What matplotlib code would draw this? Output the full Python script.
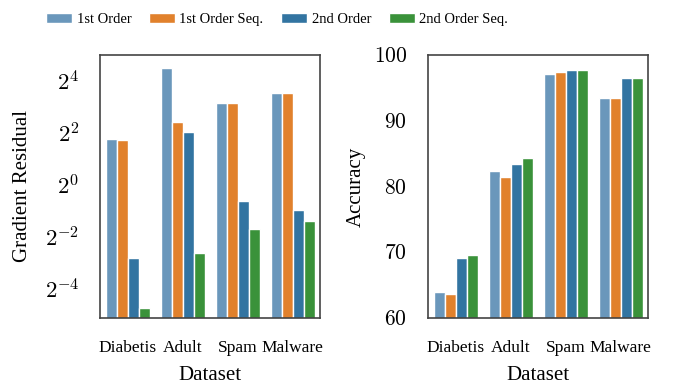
import numpy as np
import matplotlib
matplotlib.use("Agg")
import matplotlib.pyplot as plt
from matplotlib.patches import Patch
from matplotlib.ticker import FixedLocator, FuncFormatter, NullLocator

# --------------------
# Data
# --------------------
DATASETS = ["Diabetis", "Adult", "Spam", "Malware"]
METHODS = ["1st Order", "1st Order Seq.", "2nd Order", "2nd Order Seq."]
COLORS = ["#6a97bb", "#e1812c", "#3274a1", "#3a923a"]

# gradient residual per method, one value per dataset
residual_1st = [3.41, 22.5, 8.98, 11.6]
residual_1st_seq = [3.32, 5.36, 8.98, 11.6]
residual_2nd = [0.143, 4.08, 0.647, 0.51]
residual_2nd_seq = [0.038, 0.163, 0.31, 0.386]

accuracy_1st = [64.0, 82.3, 97.1, 93.5]
accuracy_1st_seq = [63.7, 81.5, 97.4, 93.5]
accuracy_2nd = [69.1, 83.4, 97.7, 96.5]
accuracy_2nd_seq = [69.6, 84.3, 97.7, 96.5]

residuals = [residual_1st, residual_1st_seq, residual_2nd, residual_2nd_seq]
accuracies = [accuracy_1st, accuracy_1st_seq, accuracy_2nd, accuracy_2nd_seq]

plt.rcParams["font.family"] = ["Liberation Serif", "DejaVu Serif"]
plt.rcParams["mathtext.fontset"] = "cm"

BAR_W = 0.2


def draw_bars(ax, series):
    x = np.arange(len(DATASETS))
    for j, vals in enumerate(series):
        ax.bar(x + (j - 1.5) * BAR_W, vals, BAR_W, color=COLORS[j],
               edgecolor="white", linewidth=1.0)
    ax.set_xlim(-0.5, len(DATASETS) - 0.5)
    ax.set_xticks(x)
    ax.set_xticklabels(DATASETS, fontsize=12.5)
    ax.tick_params(axis="both", length=0)
    ax.tick_params(axis="x", pad=16)
    ax.tick_params(axis="y", pad=15, labelsize=15.5)
    ax.set_xlabel("Dataset", fontsize=15, labelpad=7)
    for sp in ax.spines.values():
        sp.set_color("#444444")
        sp.set_linewidth(1.2)


fig = plt.figure(figsize=(6.88, 3.87), dpi=100)
ax1 = fig.add_axes([100 / 688, 1 - 318 / 387, 220 / 688, 263 / 387])
ax2 = fig.add_axes([428 / 688, 1 - 318 / 387, 220 / 688, 263 / 387])

# left: gradient residual on log2 scale
draw_bars(ax1, residuals)
ax1.set_yscale("log", base=2)
ax1.set_ylim(2 ** -5.12, 2 ** 5.0)
ax1.yaxis.set_major_locator(FixedLocator([2.0 ** e for e in (-4, -2, 0, 2, 4)]))
ax1.yaxis.set_minor_locator(NullLocator())
ax1.yaxis.set_major_formatter(FuncFormatter(lambda v, p: r"$2^{%d}$" % round(np.log2(v))))
ax1.tick_params(axis="y", labelsize=16.5)
ax1.set_ylabel("Gradient Residual", fontsize=15, labelpad=9)

# right: accuracy
draw_bars(ax2, accuracies)
ax2.set_ylim(60, 100)
ax2.set_yticks([60, 70, 80, 90, 100])
ax2.yaxis.set_major_formatter(FuncFormatter(lambda v, p: r"$%d$" % v))
ax2.set_ylabel("Accuracy", fontsize=15, labelpad=6)

handles = [Patch(facecolor=c, edgecolor="white", label=m) for c, m in zip(COLORS, METHODS)]
fig.legend(handles=handles, loc="upper center", bbox_to_anchor=(277 / 688, 1.0),
           ncol=4, frameon=False, fontsize=10.5, handlelength=1.8,
           handleheight=0.6, handletextpad=0.3, columnspacing=1.2)

fig.savefig("out.png", dpi=100)
